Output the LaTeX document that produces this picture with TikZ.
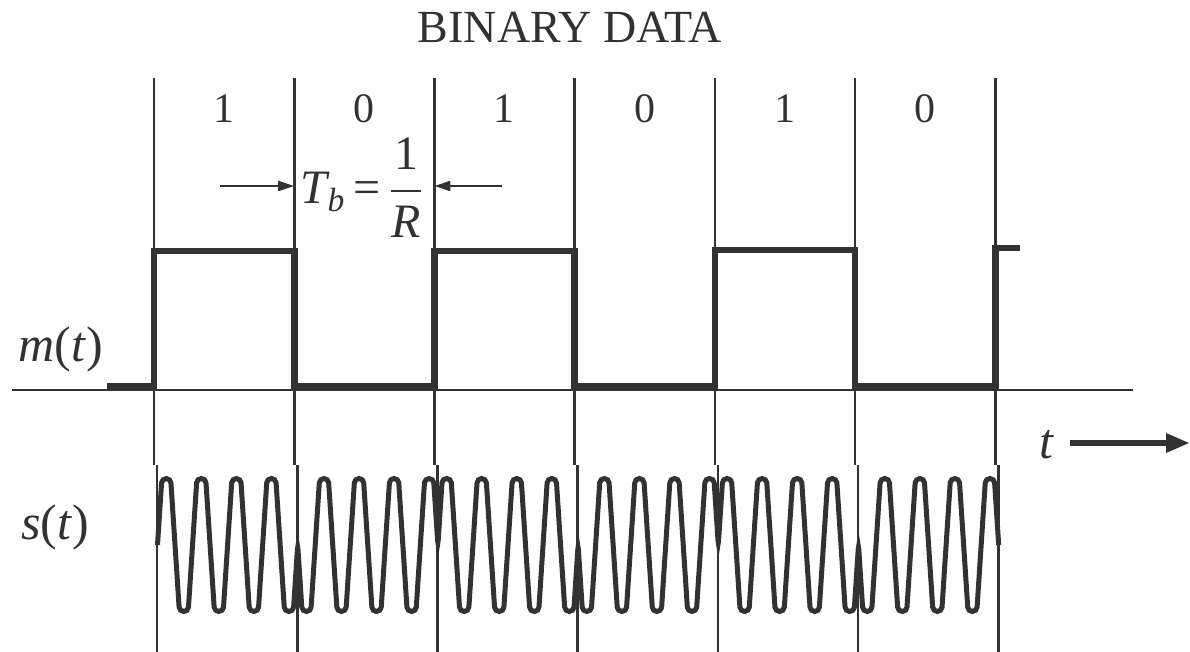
\documentclass[tikz,border=0pt]{standalone}
\usepackage{amsmath}
\usepackage{fontspec}
\setmainfont{Liberation Serif}
\usepackage{tikz}
\usetikzlibrary{arrows.meta}
\definecolor{ink}{RGB}{50,50,50}

\begin{document}
\begin{tikzpicture}[x=0.5pt,y=-0.5pt,
  bitline/.style={ink,line width=1.3pt},
  msig/.style={ink,line width=3.3pt},
  ssig/.style={ink,line width=2.5pt,rounded corners=2.2pt},
  tbarrow/.style={ink,line width=1.1pt,-{Triangle[length=8pt,width=5pt]}},
  tarrow/.style={ink,line width=3pt,-{Triangle[length=12pt,width=9pt]}},
  lbl/.style={ink,font=\fontsize{21}{25}\selectfont}]
\useasboundingbox (0,0) rectangle (1190,652);

\node[lbl,font=\fontsize{23}{27}\selectfont] (title) at (570,27) {BINARY DATA};

% bit boundaries every 140.2px, lower half drawn 3px to the right
\foreach \k in {0,...,6} {
  \coordinate (b\k) at ({154+140.2*\k},78);
  \draw[bitline] (b\k) -- ({154+140.2*\k},465) ({157+140.2*\k},465) -- ({157+140.2*\k},652);
}

% the data bits
\foreach \k/\v in {0/1,1/0,2/1,3/0,4/1,5/0}
  \node[lbl] (d\k) at ({224+140.2*\k},109) {\v};

% bit time
\node[lbl,font=\fontsize{24}{28}\selectfont] (tb) at (362,188)
  {$\textit{T}_{\textit{b}}\,\text{=}\,\dfrac{\text{1}}{\textit{R}}$};
\coordinate (tba) at (220,186);
\coordinate (tbb) at (502,186);
\draw[tbarrow] (tba) -- (tba -| b1);
\draw[tbarrow] (tbb) -- (tbb -| b2);

% m(t)
\node[lbl,font=\fontsize{25}{29}\selectfont] (mlab) at (61,349) {\textit{m}(\textit{t})};
\draw[bitline] (12,390) -- (1133,390); % time axis
\draw[msig] (107,386) -| (154,251) -| (294.2,386) -| (434.4,251) -| (574.6,386)
  -| (714.8,250) -| (855,386) -| (995.2,248) -- (1020,248);

% t axis arrow
\node[lbl,font=\fontsize{25}{29}\selectfont] (tlab) at (1047,445) {\textit{t}};
\coordinate (tstart) at (1070,443);
\coordinate (tend) at (1190,443);
\draw[tarrow] (tstart) -- (tend);

% s(t): 4 cycles per bit, sign flips with the data
\node[lbl,font=\fontsize{25}{29}\selectfont] (slab) at (55,527) {\textit{s}(\textit{t})};
\draw[ssig] (157.5,545)
  \foreach \k/\sg in {0/1,1/-1,2/1,3/-1,4/1,5/-1} {
    \foreach \n in {0,...,7} {
      -- ({157.5+140.2*\k+8.76+17.525*\n-4.4},{545-66.5*\sg*(1-2*mod(\n,2))})
      -- ({157.5+140.2*\k+8.76+17.525*\n+4.4},{545-66.5*\sg*(1-2*mod(\n,2))})
    }
    -- ({157.5+140.2*(\k+1)},545)
  };
\end{tikzpicture}
\end{document}
